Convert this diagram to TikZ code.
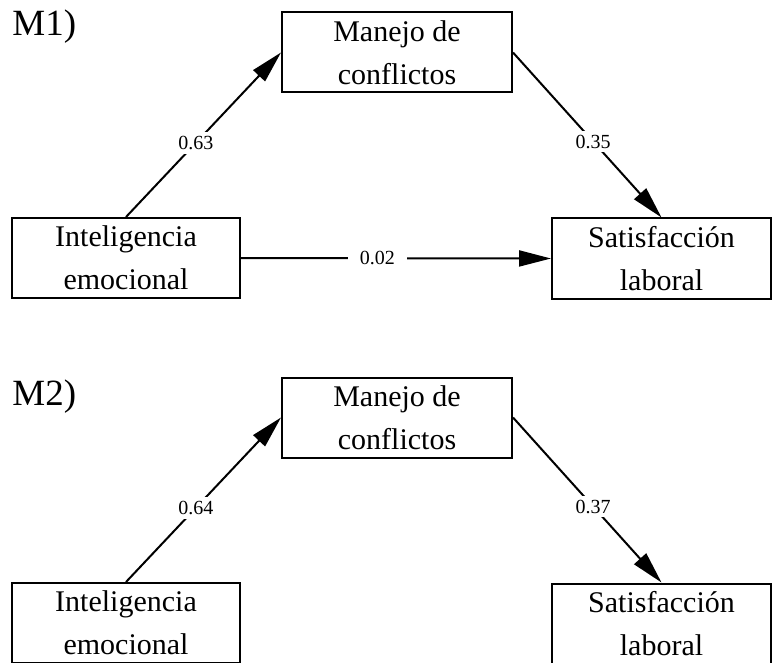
\documentclass[tikz,border=0pt]{standalone}
\usepackage{fontspec}
\setmainfont{Liberation Serif}
\usetikzlibrary{arrows.meta}
\tikzstyle{var}=[draw, line width=1pt, align=center, inner sep=0pt, minimum height=40pt, font=\fontsize{15}{21.5}\selectfont]
\tikzstyle{coef}=[fill=white, inner sep=2pt, font=\fontsize{10}{12}\selectfont]
\tikzstyle{tag}=[anchor=west, inner sep=0pt, font=\fontsize{18.5}{22}\selectfont]
\tikzstyle{arrow}=[draw=black, line width=1pt, >={Triangle[length=16pt, width=8pt]}]

\begin{document}
\begin{tikzpicture}[x=0.5pt, y=-0.5pt]
		   \useasboundingbox (0,0) rectangle (774,662);
		   % M1
		   \begin{scope}
			   \node (m1) at (12, 27)[tag] {M1)};
			   \node (mc1) at (397, 52.5)[var, minimum width=115pt] {Manejo de\\conflictos};
			   \node (ie1) at (126, 258)[var, minimum width=114pt] {Inteligencia\\emocional};
			   \node (sl1) at (661.5, 258.5)[var, minimum width=109.5pt] {Satisfacción\\laboral};
		   \end{scope}
		   \begin{scope}[arrow]
			   \path [->] (ie1.north) edge node[coef, pos=0.45] {0.63} (mc1.west);
			   \path [->] (mc1.east) edge node[coef, pos=0.54] {0.35} (sl1.north);
			   \path [->] (ie1.east) edge node[coef, pos=0.44, inner xsep=6pt] {0.02} (sl1.west);
		   \end{scope}
		   % M2
		   \begin{scope}
			   \node (m2) at (12, 397)[tag] {M2)};
			   \node (mc2) at (397, 417.5)[var, minimum width=115pt] {Manejo de\\conflictos};
			   \node (ie2) at (126, 623)[var, minimum width=114pt] {Inteligencia\\emocional};
			   \node (sl2) at (661.5, 623.5)[var, minimum width=109.5pt] {Satisfacción\\laboral};
		   \end{scope}
		   \begin{scope}[arrow]
			   \path [->] (ie2.north) edge node[coef, pos=0.45] {0.64} (mc2.west);
			   \path [->] (mc2.east) edge node[coef, pos=0.54] {0.37} (sl2.north);
		   \end{scope}
	   \end{tikzpicture}
\end{document}
